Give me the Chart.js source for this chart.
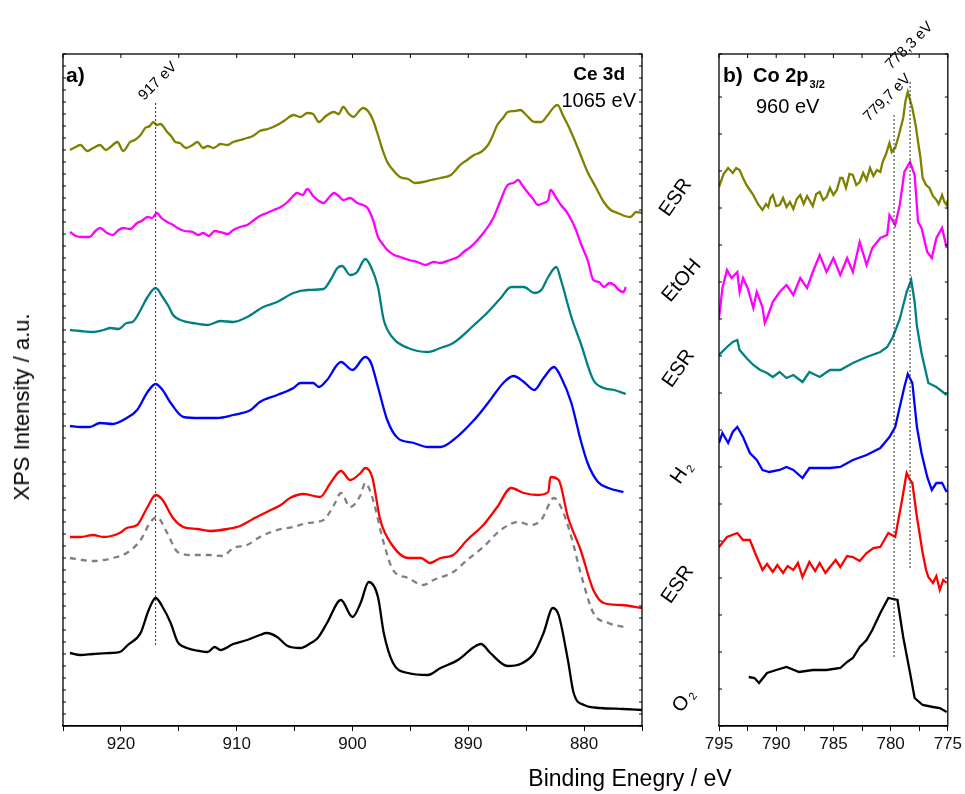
<!DOCTYPE html>
<html>
<head>
<meta charset="utf-8">
<script src="https://cdn.jsdelivr.net/npm/chart.js@4.4.1/dist/chart.umd.min.js"></script>
<style>
  body { margin: 0; background: #fff; font-family: "Liberation Sans", Arial, sans-serif; }
  #page { position: relative; width: 965px; height: 794px; overflow: hidden; }
  .panel { position: absolute; top: 0; height: 794px; }
  .lbl { position: absolute; color: #000; white-space: nowrap; transform-origin: center center; }
  .sample { font-size: 20px; }
  .sample sub { font-size: 11px; vertical-align: -3px; margin-left: 2px; }
</style>
</head>
<body>
<div id="page">
  <div class="panel" style="left:0;width:655px"><canvas id="ceChart"></canvas></div>
  <div class="panel" style="left:700px;width:265px"><canvas id="coChart"></canvas></div>

  <div class="lbl" style="left:22px;top:407px;font-size:22px;transform:translate(-50%,-50%) rotate(-90deg)">XPS Intensity / a.u.</div>
  <div class="lbl" style="left:630px;top:778px;font-size:23px;transform:translate(-50%,-50%)">Binding Enegry / eV</div>

  <div class="lbl sample" style="left:675px;top:197px;transform:translate(-50%,-50%) rotate(-55deg)">ESR</div>
  <div class="lbl sample" style="left:681px;top:280px;transform:translate(-50%,-50%) rotate(-50deg)">EtOH</div>
  <div class="lbl sample" style="left:678px;top:368px;transform:translate(-50%,-50%) rotate(-55deg)">ESR</div>
  <div class="lbl sample" style="left:681px;top:472px;transform:translate(-50%,-50%) rotate(-55deg)">H<sub>2</sub></div>
  <div class="lbl sample" style="left:677px;top:584px;transform:translate(-50%,-50%) rotate(-55deg)">ESR</div>
  <div class="lbl sample" style="left:683px;top:700px;transform:translate(-50%,-50%) rotate(-55deg)">O<sub>2</sub></div>
</div>
<script>
// Ce 3d spectra, [binding energy eV, intensity a.u. (offset stacked)]
const ceEsrTop = [[924.4,576],[923.9,579],[923.5,581],[922.9,575],[922.4,578],[921.8,581],[921.3,576],[920.9,579],[920.3,584],[919.8,575],[919.2,584],[918.8,586],[918.3,591],[917.9,598],[917.5,600],[917.2,604],[916.9,601],[916.6,602],[916.0,594],[915.6,589],[915.3,584],[914.9,583],[914.4,578],[913.8,581],[913.4,584],[912.9,578],[912.5,580],[912.0,578],[911.4,582],[910.8,581],[910.3,584],[909.7,586],[909.1,588],[908.6,590],[908.0,595],[907.3,597],[906.5,601],[905.8,606],[905.1,611],[904.5,609],[903.9,613],[903.4,612],[902.9,604],[902.3,610],[901.6,614],[901.2,612],[900.8,619],[900.3,612],[899.9,609],[899.5,614],[899.1,618],[898.6,614],[898.2,605],[897.8,591],[897.4,576],[897.0,564],[896.5,556],[895.9,549],[895.2,547],[894.6,543],[893.9,544],[893.2,546],[892.4,548],[891.5,551],[890.7,561],[890.1,566],[889.5,571],[888.9,574],[888.3,581],[887.9,590],[887.5,601],[887.0,608],[886.6,614],[886.0,615],[885.5,616],[885.0,611],[884.3,604],[883.7,604],[883.2,610],[882.6,619],[882.3,621],[881.8,610],[881.4,601],[880.9,588],[880.3,571],[879.7,554],[879.0,539],[878.3,524],[877.7,516],[877.1,513],[876.5,510],[876.0,509],[875.5,514],[875.0,513]];
const ceEtoh = [[924.4,494],[923.9,490],[923.4,489],[922.7,489],[922.2,495],[921.8,498],[921.2,493],[920.7,491],[920.2,496],[919.8,498],[919.2,497],[918.6,503],[918.2,505],[917.7,509],[917.3,508],[916.9,513],[916.5,508],[916.0,504],[915.5,501],[915.1,498],[914.5,495],[913.8,494],[913.3,491],[912.9,493],[912.4,490],[911.9,495],[911.4,494],[910.8,492],[910.3,496],[909.7,499],[909.1,501],[908.5,506],[908.0,510],[907.4,513],[906.8,516],[906.2,519],[905.6,524],[905.2,529],[904.8,533],[904.3,531],[903.9,537],[903.4,530],[902.9,525],[902.5,523],[902.0,529],[901.6,533],[901.2,530],[900.8,526],[900.2,528],[899.6,523],[899.1,521],[898.7,518],[898.2,505],[897.8,489],[897.4,482],[897.0,476],[896.4,471],[895.9,469],[895.1,466],[894.4,464],[893.7,461],[893.0,464],[892.4,463],[891.6,466],[890.9,469],[890.3,475],[889.8,479],[889.2,486],[888.7,493],[888.2,501],[887.8,509],[887.2,526],[886.6,541],[886.1,543],[885.7,546],[885.3,540],[884.9,534],[884.4,527],[884.0,521],[883.5,523],[883.1,526],[882.9,536],[882.4,528],[882.0,521],[881.5,514],[881.1,506],[880.7,496],[880.3,483],[879.7,466],[879.2,446],[878.7,444],[878.3,439],[877.8,443],[877.4,441],[877.0,436],[876.6,434],[876.4,439]];
const ceEsrMid = [[924.4,396],[923.5,395],[922.4,394],[921.5,396],[920.9,398],[920.2,397],[919.5,403],[919.0,404],[918.3,416],[917.7,429],[917.0,438],[916.4,429],[915.9,420],[915.5,411],[914.6,405],[913.8,403],[912.5,401],[911.4,405],[910.3,404],[909.1,409],[907.7,419],[906.5,424],[905.1,433],[903.9,436],[902.5,437],[901.9,446],[901.3,458],[900.9,460],[900.2,451],[899.6,454],[898.9,467],[898.4,459],[897.8,439],[897.3,406],[896.5,388],[895.2,378],[893.5,374],[892.4,378],[891.3,383],[889.5,401],[888.3,414],[887.2,428],[886.3,439],[885.2,439],[884.3,433],[883.7,436],[883.1,449],[882.4,459],[882.0,446],[881.1,409],[880.3,383],[879.2,346],[878.3,338],[877.4,336],[876.4,332]];
const ceH2 = [[924.4,300],[923.5,299],[922.7,299],[921.8,303],[920.7,302],[919.5,308],[918.6,316],[917.7,334],[917.0,342],[916.4,336],[915.7,323],[914.6,309],[913.2,308],[911.7,308],[910.3,311],[908.8,316],[908.0,324],[906.5,331],[905.1,338],[904.5,343],[903.4,343],[902.9,339],[902.2,346],[901.0,364],[900.0,356],[898.9,369],[898.4,363],[897.8,339],[897.0,306],[896.1,288],[894.7,283],[893.5,279],[892.4,279],[891.3,286],[889.5,306],[888.3,323],[886.9,344],[886.1,350],[885.2,344],[884.3,336],[883.5,348],[882.6,359],[882.0,349],[881.1,323],[880.3,286],[879.7,263],[878.8,244],[877.9,238],[876.6,234]];
const ceEsrLow = [[924.4,189],[923.5,189],[922.4,191],[921.5,189],[920.1,193],[919.5,198],[918.6,201],[917.7,219],[917.0,231],[916.4,226],[915.5,208],[914.6,199],[913.4,197],[912.3,195],[910.8,197],[909.7,200],[908.6,207],[907.4,214],[906.2,221],[905.4,228],[904.2,232],[902.8,229],[901.9,243],[901.0,255],[900.2,246],[899.3,253],[898.9,258],[898.3,249],[897.6,206],[896.7,183],[895.2,168],[894.1,168],[893.3,163],[892.4,168],[891.3,171],[890.1,186],[888.7,201],[887.5,219],[886.3,238],[885.2,233],[884.0,231],[883.1,234],[882.9,249],[882.2,246],[881.4,209],[880.3,176],[879.2,136],[878.3,123],[876.8,121],[875.0,118]];
const ceRef = [[924.4,168],[922.4,165],[920.7,168],[919.5,173],[918.3,186],[917.5,203],[916.9,209],[916.0,193],[915.1,174],[913.8,171],[912.3,171],[911.2,170],[910.3,178],[909.1,181],[908.0,189],[906.5,196],[905.1,199],[903.9,203],[902.5,206],[901.6,221],[901.0,233],[900.2,219],[899.3,231],[898.9,243],[898.3,229],[897.3,183],[896.5,156],[895.2,148],[893.9,141],[893.0,146],[891.3,154],[890.1,166],[888.7,179],[887.2,196],[885.7,204],[884.6,201],[883.7,206],[882.6,228],[882.0,219],[881.1,189],[880.3,153],[879.2,113],[877.9,103],[876.6,99]];
const ceO2 = [[924.4,73],[923.5,71],[922.4,72],[920.9,73],[920.1,74],[919.4,81],[918.3,93],[917.6,116],[917.0,128],[916.4,119],[915.7,103],[915.1,84],[914.3,78],[913.2,75],[912.5,74],[911.9,79],[911.4,76],[910.3,82],[909.1,86],[908.0,91],[907.4,93],[906.5,89],[905.6,80],[904.5,78],[903.6,83],[903.0,88],[902.2,103],[901.0,126],[900.0,109],[899.3,123],[898.6,144],[897.8,129],[897.3,93],[896.5,63],[895.2,53],[893.5,51],[892.4,58],[890.9,66],[889.5,79],[888.9,82],[888.1,73],[886.6,60],[885.5,62],[884.3,73],[883.5,93],[882.7,118],[882.2,111],[881.4,66],[880.9,33],[880.0,21],[878.6,18],[876.6,17],[875.0,16]];
const ceMarker = [[917,623],[917,81]];

// Co 2p3/2 spectra
const coEsrTop = [[795.0,539],[794.6,552],[794.2,558],[793.8,553],[793.5,558],[793.2,556],[792.9,548],[792.6,541],[792.3,536],[792.0,531],[791.6,522],[791.2,516],[790.9,522],[790.7,519],[790.5,528],[790.3,531],[790.0,520],[789.7,521],[789.4,528],[789.1,519],[788.8,524],[788.5,517],[788.2,527],[787.9,531],[787.6,522],[787.3,530],[787.1,526],[786.8,520],[786.5,532],[786.2,534],[785.9,526],[785.6,529],[785.3,538],[785.0,531],[784.7,536],[784.4,548],[784.2,548],[783.9,538],[783.6,552],[783.3,551],[783.0,541],[782.7,544],[782.4,553],[782.1,546],[781.8,558],[781.5,550],[781.2,556],[780.9,554],[780.7,564],[780.4,572],[780.1,583],[779.9,574],[779.6,578],[779.3,590],[778.9,608],[778.7,625],[778.5,634],[778.3,626],[778.1,618],[777.8,600],[777.6,584],[777.4,569],[777.2,548],[776.9,541],[776.6,538],[776.3,530],[776.0,526],[775.8,522],[775.5,531],[775.3,524],[775.1,521],[775.0,526]];
const coEtoh = [[795.0,408],[794.7,438],[794.3,456],[793.9,448],[793.4,454],[793.2,434],[792.9,448],[792.5,438],[792.0,418],[791.7,434],[791.2,419],[791.0,403],[790.8,408],[790.3,424],[789.7,434],[789.1,441],[788.5,431],[787.9,448],[787.3,438],[786.8,454],[786.2,471],[785.6,454],[785.0,468],[784.4,451],[783.8,468],[783.3,454],[782.7,484],[782.1,461],[781.6,478],[780.9,488],[780.3,491],[780.1,511],[779.6,501],[779.2,521],[778.8,554],[778.3,564],[777.9,551],[777.6,504],[777.3,498],[776.8,474],[776.4,468],[776.0,488],[775.5,498],[775.1,478]];
const coEsrMid = [[795.0,371],[794.3,379],[793.8,384],[793.4,386],[793.2,376],[792.6,368],[792.0,361],[791.4,356],[790.8,353],[790.3,349],[789.7,354],[789.1,348],[788.5,351],[787.7,344],[787.1,354],[786.2,349],[785.3,356],[784.4,356],[783.3,363],[782.1,369],[780.9,374],[780.3,379],[779.8,389],[779.2,407],[778.6,434],[778.2,446],[777.9,424],[777.7,400],[777.3,373],[776.7,343],[776.0,339],[775.1,331]];
const coH2 = [[795.0,283],[794.7,293],[794.2,283],[793.8,294],[793.4,299],[792.9,289],[792.3,273],[791.7,266],[791.2,256],[790.6,254],[789.7,256],[789.1,259],[788.5,256],[787.7,248],[787.1,258],[786.2,258],[785.3,258],[784.4,259],[783.3,266],[782.1,271],[780.9,278],[780.1,289],[779.6,299],[779.2,319],[778.8,339],[778.5,352],[778.1,343],[777.7,299],[777.3,273],[776.8,249],[776.4,236],[776.0,243],[775.5,243],[775.1,234]];
const coEsrLow = [[795.0,179],[794.3,189],[793.4,193],[792.9,186],[792.3,186],[791.7,169],[791.2,156],[790.8,162],[790.3,154],[789.9,161],[789.4,153],[789.0,160],[788.5,156],[788.1,163],[787.7,149],[787.1,164],[786.6,155],[786.2,163],[785.7,153],[785.3,159],[784.8,166],[784.4,159],[783.8,170],[783.3,169],[782.7,165],[782.1,173],[781.5,178],[780.9,179],[780.5,187],[780.2,193],[779.6,189],[779.0,226],[778.6,253],[778.3,246],[778.1,243],[777.7,209],[777.2,173],[776.9,156],[776.7,149],[776.3,143],[776.0,150],[775.7,136],[775.4,146],[775.1,143]];
const coO2 = [[792.4,49],[791.9,48],[791.5,43],[790.8,53],[790.0,56],[789.1,59],[788.0,54],[786.8,56],[785.6,56],[784.4,58],[783.8,64],[783.3,68],[782.7,79],[782.1,86],[781.6,96],[780.9,113],[780.2,128],[779.4,126],[778.9,89],[778.3,53],[777.9,28],[777.2,21],[776.3,19],[775.7,18],[775.1,14]];
const coMarkerA = [[779.7,611],[779.7,69]];
const coMarkerB = [[778.3,644],[778.3,156]];

const olive = '#808000', magenta = '#ff00ff', teal = '#008080', blue = '#0000ff', red = '#ff0000', grey = '#808080', black = '#000000';

function line(data, color, dash, smooth) {
    return {
        data: data.map(p => ({ x: p[0], y: p[1] })),
        borderColor: color,
        borderWidth: 2.3,
        borderDash: dash || [],
        pointRadius: 0,
        tension: smooth ? 0.4 : 0,
        cubicInterpolationMode: smooth ? 'monotone' : 'default',
        fill: false
    };
}

function marker(data) {
    return {
        data: data.map(p => ({ x: p[0], y: p[1] })),
        borderColor: '#333',
        borderWidth: 1,
        borderDash: [2, 2],
        pointRadius: 0,
        fill: false
    };
}

// frame, inner ticks and in-plot annotations
const panelDecor = {
    id: 'panelDecor',
    afterDatasetsDraw(chart, args, opts) {
        const { ctx, chartArea: a, scales } = chart;
        ctx.save();
        ctx.strokeStyle = '#000';
        ctx.lineWidth = 1.3;
        ctx.strokeRect(a.left, a.top, a.right - a.left, a.bottom - a.top);
        ctx.lineWidth = 1;
        ctx.beginPath();
        scales.x.ticks.forEach(t => {
            const px = scales.x.getPixelForValue(t.value);
            ctx.moveTo(px, a.top);
            ctx.lineTo(px, a.top + 4);
        });
        scales.y.ticks.forEach(t => {
            const py = scales.y.getPixelForValue(t.value);
            ctx.moveTo(a.left, py); ctx.lineTo(a.left + 3, py);
            ctx.moveTo(a.right, py); ctx.lineTo(a.right - 3, py);
        });
        ctx.stroke();
        ctx.fillStyle = '#000';
        (opts.notes || []).forEach(n => {
            ctx.save();
            ctx.translate(a.left + n.dx, a.top + n.dy);
            if (n.rot) ctx.rotate(n.rot * Math.PI / 180);
            ctx.font = n.font;
            ctx.textAlign = n.align || 'left';
            ctx.textBaseline = 'alphabetic';
            ctx.fillText(n.text, 0, 0);
            if (n.sub) {
                const w = ctx.measureText(n.text).width;
                ctx.font = n.subFont;
                ctx.fillText(n.sub, w + 1, 6);
            }
            ctx.restore();
        });
        ctx.restore();
    }
};

function makePanel(id, datasets, xMin, xMax, xStep, xMajor, yStep, yWidth, padRight, notes) {
    return new Chart(document.getElementById(id).getContext('2d'), {
        type: 'line',
        data: { datasets: datasets },
        plugins: [panelDecor],
        options: {
            responsive: true,
            maintainAspectRatio: false,
            devicePixelRatio: 1,
            animation: false,
            layout: { padding: { top: 54, right: padRight, bottom: 0, left: 0 } },
            plugins: {
                legend: { display: false },
                tooltip: { enabled: false },
                panelDecor: { notes: notes }
            },
            scales: {
                x: {
                    type: 'linear',
                    reverse: true,
                    min: xMin,
                    max: xMax,
                    afterFit: s => { s.height = 68; },
                    border: { color: '#000', width: 1.3 },
                    grid: { drawOnChartArea: false, tickLength: 5, color: '#000' },
                    ticks: {
                        stepSize: xStep,
                        autoSkip: false,
                        maxRotation: 0,
                        padding: 3,
                        color: '#111',
                        font: { family: 'Liberation Sans', size: 17 },
                        callback: v => (Math.abs(v % xMajor) < 1e-6 ? v : '')
                    }
                },
                y: {
                    min: 0,
                    max: 672,
                    afterFit: s => { s.width = yWidth; },
                    border: { display: false },
                    grid: { display: false },
                    ticks: { display: false, stepSize: yStep }
                }
            }
        }
    });
}

makePanel('ceChart', [
    marker(ceMarker),
    line(ceEsrTop, olive, null, true),
    line(ceEtoh, magenta, null, true),
    line(ceEsrMid, teal, null, true),
    line(ceH2, blue, null, true),
    line(ceRef, grey, [6, 5], true),
    line(ceEsrLow, red, null, true),
    line(ceO2, black, null, true)
], 875, 925, 5, 10, 12, 63, 13, [
    { text: 'a)', dx: 3, dy: 28, font: 'bold 21px "Liberation Sans"' },
    { text: 'Ce 3d', dx: 562, dy: 26, align: 'right', font: 'bold 19px "Liberation Sans"' },
    { text: '1065 eV', dx: 573, dy: 53, align: 'right', font: '20px "Liberation Sans"' },
    { text: '917 eV', dx: 81, dy: 47, rot: -45, font: '15px "Liberation Sans"' }
]);

makePanel('coChart', [
    marker(coMarkerA),
    marker(coMarkerB),
    line(coEsrTop, olive),
    line(coEtoh, magenta),
    line(coEsrMid, teal),
    line(coH2, blue),
    line(coEsrLow, red),
    line(coO2, black)
], 775, 795, 2.5, 5, 37, 19, 17, [
    { text: 'b)', dx: 4, dy: 28, font: 'bold 21px "Liberation Sans"' },
    { text: 'Co 2p', dx: 34, dy: 28, font: 'bold 20px "Liberation Sans"', sub: '3/2', subFont: 'bold 11px "Liberation Sans"' },
    { text: '960 eV', dx: 37, dy: 59, font: '20px "Liberation Sans"' },
    { text: '779,7 eV', dx: 150, dy: 68, rot: -45, font: '15px "Liberation Sans"' },
    { text: '778,3 eV', dx: 172, dy: 16, rot: -45, font: '15px "Liberation Sans"' }
]);
</script>
</body>
</html>
